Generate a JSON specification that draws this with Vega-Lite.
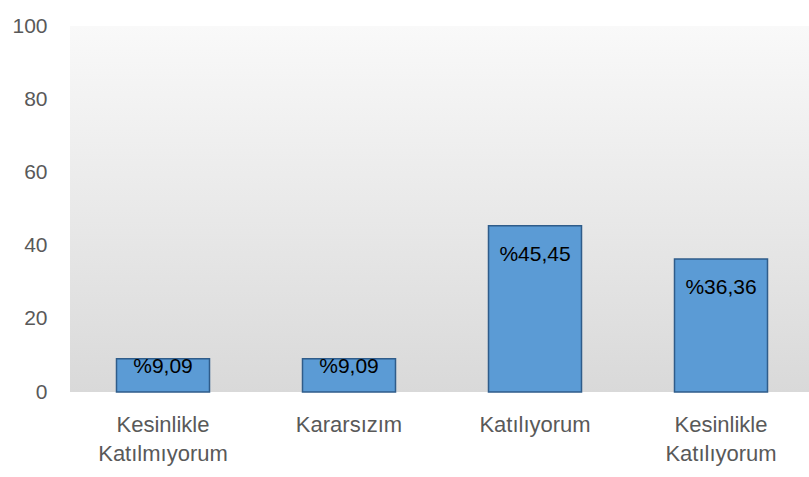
{
  "$schema": "https://vega.github.io/schema/vega-lite/v6.json",
  "width": 739,
  "height": 366,
  "autosize": "none",
  "padding": {"left": 70, "top": 26, "right": 0, "bottom": 85},
  "background": "white",
  "config": {"view": {"stroke": null}, "font": "Liberation Sans"},
  "datasets": {
    "bars": [
      {"cat": "Kesinlikle Katılmıyorum", "value": 9.09, "label": "%9,09"},
      {"cat": "Kararsızım", "value": 9.09, "label": "%9,09"},
      {"cat": "Katılıyorum", "value": 45.45, "label": "%45,45"},
      {"cat": "Kesinlikle Katılıyorum", "value": 36.36, "label": "%36,36"}
    ],
    "bg": [{"top": 100, "bottom": 0}]
  },
  "layer": [
    {
      "data": {"name": "bg"},
      "mark": {
        "type": "rect",
        "color": {
          "gradient": "linear",
          "x1": 0, "y1": 0, "x2": 0, "y2": 1,
          "stops": [
            {"offset": 0, "color": "#f9f9f9"},
            {"offset": 1, "color": "#d9d9d9"}
          ]
        }
      },
      "encoding": {
        "y": {"field": "top", "type": "quantitative", "scale": {"domain": [0, 100]}},
        "y2": {"field": "bottom"}
      }
    },
    {
      "data": {"name": "bars"},
      "mark": {"type": "bar", "fill": "#5B9BD5", "stroke": "#2F5C8A", "strokeWidth": 1.5},
      "encoding": {
        "x": {
          "field": "cat", "type": "nominal", "sort": null,
          "scale": {"range": [0, 744], "paddingInner": 0.5, "paddingOuter": 0.25},
          "axis": {
            "title": null, "ticks": false, "domain": false, "grid": false,
            "labelAngle": 0, "labelFontSize": 22, "labelColor": "#595959",
            "labelPadding": 22, "labelLineHeight": 29, "labelBaseline": "top",
            "labelLimit": 0, "labelExpr": "split(datum.label, ' ')"
          }
        },
        "y": {
          "field": "value", "type": "quantitative",
          "scale": {"domain": [0, 100]},
          "axis": {
            "title": null, "ticks": false, "domain": false, "grid": false,
            "values": [0, 20, 40, 60, 80, 100],
            "labelFontSize": 21, "labelColor": "#595959", "labelPadding": 23
          }
        }
      }
    },
    {
      "data": {"name": "bars"},
      "transform": [{"filter": "datum.value > 20"}],
      "mark": {"type": "text", "baseline": "alphabetic", "dy": 35, "fontSize": 21, "color": "#000000"},
      "encoding": {
        "x": {"field": "cat", "type": "nominal", "sort": null},
        "y": {"field": "value", "type": "quantitative"},
        "text": {"field": "label"}
      }
    },
    {
      "data": {"name": "bars"},
      "transform": [{"filter": "datum.value <= 20"}],
      "mark": {"type": "text", "baseline": "alphabetic", "dy": 14.6, "fontSize": 21, "color": "#000000"},
      "encoding": {
        "x": {"field": "cat", "type": "nominal", "sort": null},
        "y": {"field": "value", "type": "quantitative"},
        "text": {"field": "label"}
      }
    }
  ]
}
